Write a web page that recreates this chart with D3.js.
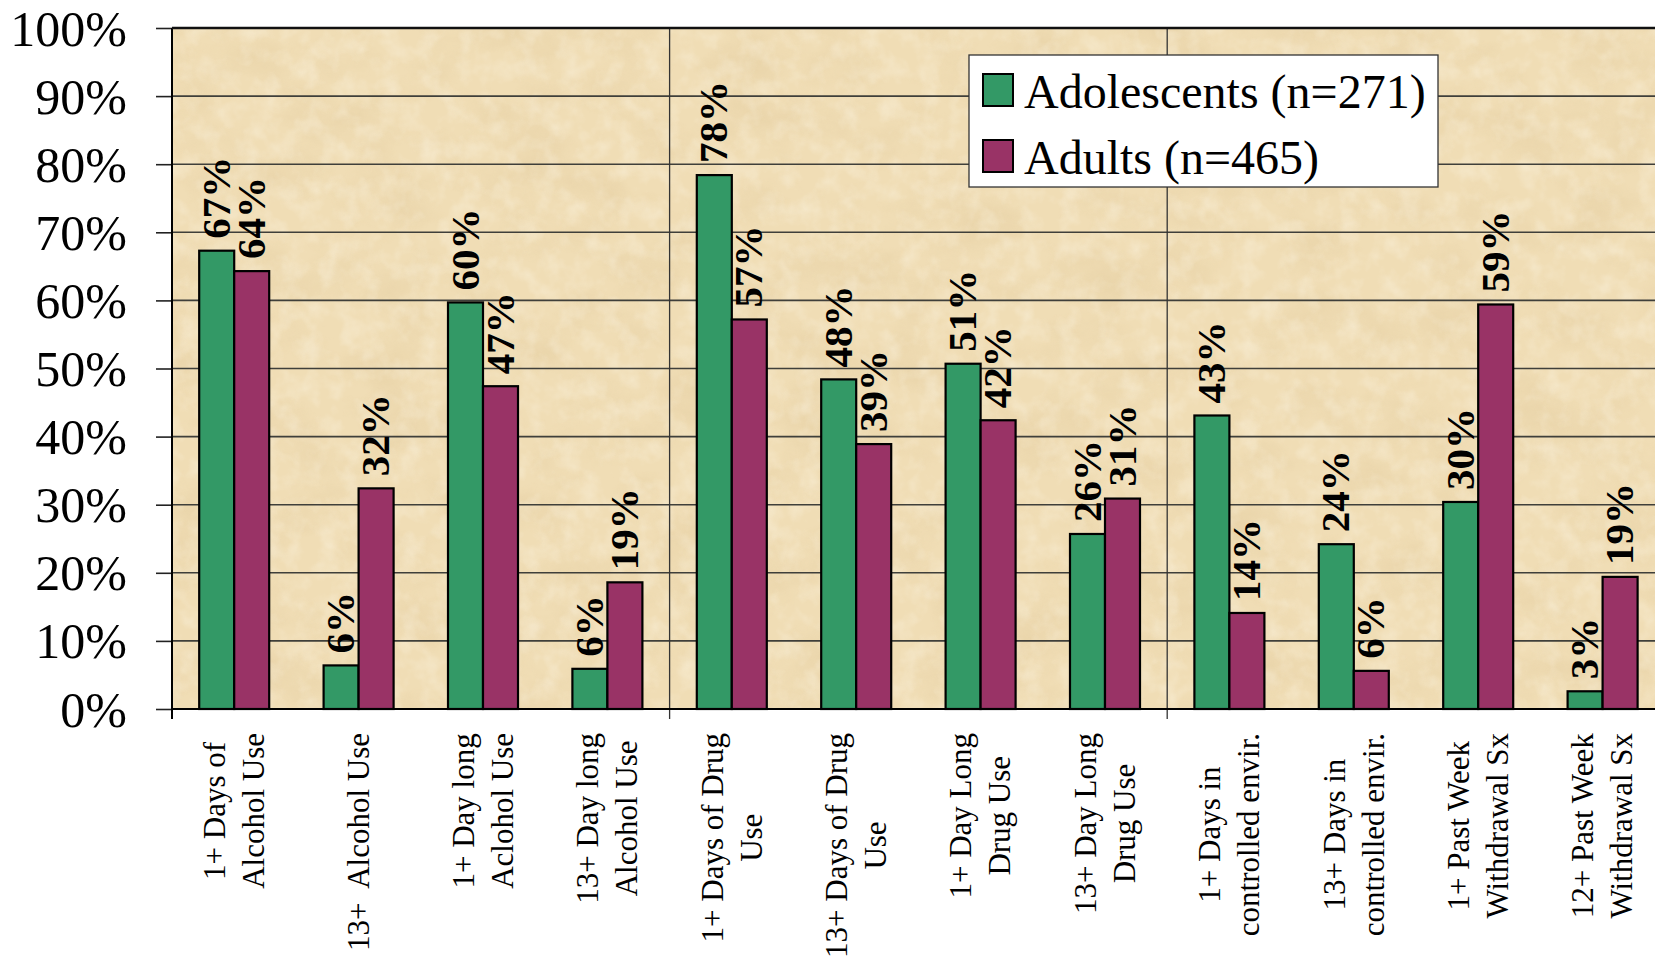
<!DOCTYPE html>
<html>
<head>
<meta charset="utf-8">
<script src="https://cdn.jsdelivr.net/npm/d3@7"></script>
<style>
  html, body { margin: 0; padding: 0; background: #fff; }
  svg { display: block; }
  text { font-family: "Liberation Serif", "Times New Roman", serif; }
</style>
</head>
<body>
<svg id="chart" width="1655" height="962"></svg>
<script>
// category labels, one entry per line of the wrapped label
var categories = [
    ["1+ Days of", "Alcohol Use"],
    ["13+  Alcohol Use"],
    ["1+ Day long", "Aclohol Use"],
    ["13+ Day long", "Alcohol Use"],
    ["1+ Days of Drug", "Use"],
    ["13+ Days of Drug", "Use"],
    ["1+ Day Long", "Drug Use"],
    ["13+ Day Long", "Drug Use"],
    ["1+ Days in", "controlled envir."],
    ["13+ Days in", "controlled envir."],
    ["1+ Past Week", "Withdrawal Sx"],
    ["12+ Past Week", "Withdrawal Sx"]
];

var seriesNames = ["Adolescents (n=271)", "Adults (n=465)"];
var seriesColors = ["#339966", "#993366"];

// percentages
var adolescents = [67.3, 6.4, 59.7, 5.9, 78.4, 48.4, 50.7, 25.7, 43.1, 24.2, 30.4, 2.6];
var adults = [64.3, 32.4, 47.4, 18.6, 57.2, 38.9, 42.4, 30.9, 14.1, 5.6, 59.4, 19.4];

var yTicks = [0, 10, 20, 30, 40, 50, 60, 70, 80, 90, 100];

var svg = d3.select("#chart");

// plot area (runs past the right edge of the picture, as in the original)
var plotLeft = 172, plotTop = 28, plotBottom = 709;
var catW = 124.4;
var plotRight = plotLeft + catW * categories.length;

var x = d3.scaleBand()
    .domain(d3.range(categories.length))
    .range([plotLeft, plotRight])
    .padding(0);

var xs = d3.scaleBand()
    .domain([0, 1])
    .range([catW / 2 - 35, catW / 2 + 35])
    .padding(0);

var y = d3.scaleLinear().domain([0, 100]).range([plotBottom, plotTop]);

/* BACKGROUND TEXTURE */
var defs = svg.append("defs");
// coarse darker blotches
var filt = defs.append("filter").attr("id", "paper")
    .attr("x", 0).attr("y", 0).attr("width", 1).attr("height", 1);
filt.append("feTurbulence")
    .attr("type", "fractalNoise")
    .attr("baseFrequency", "0.014 0.02")
    .attr("numOctaves", 5)
    .attr("seed", 7);
filt.append("feColorMatrix")
    .attr("type", "matrix")
    .attr("values", "0 0 0 0 0.80  0 0 0 0 0.64  0 0 0 0 0.38  2.0 0 0 0 -0.85");
// soft light speckle
var filt2 = defs.append("filter").attr("id", "speckle")
    .attr("x", 0).attr("y", 0).attr("width", 1).attr("height", 1);
filt2.append("feTurbulence")
    .attr("type", "fractalNoise")
    .attr("baseFrequency", "0.05")
    .attr("numOctaves", 3)
    .attr("seed", 3);
filt2.append("feColorMatrix")
    .attr("type", "matrix")
    .attr("values", "0 0 0 0 0.99  0 0 0 0 0.95  0 0 0 0 0.84  1.8 0 0 0 -0.75");

defs.append("clipPath").attr("id", "plotClip")
    .append("rect").attr("x", plotLeft).attr("y", plotTop)
    .attr("width", plotRight - plotLeft).attr("height", plotBottom - plotTop);

var bg = svg.append("g").attr("clip-path", "url(#plotClip)");
bg.append("rect")
    .attr("x", plotLeft).attr("y", plotTop)
    .attr("width", plotRight - plotLeft).attr("height", plotBottom - plotTop)
    .attr("fill", "#f0ddb5");
bg.append("rect")
    .attr("x", plotLeft).attr("y", plotTop)
    .attr("width", plotRight - plotLeft).attr("height", plotBottom - plotTop)
    .attr("filter", "url(#paper)")
    .attr("opacity", 0.75);
bg.append("rect")
    .attr("x", plotLeft).attr("y", plotTop)
    .attr("width", plotRight - plotLeft).attr("height", plotBottom - plotTop)
    .attr("filter", "url(#speckle)")
    .attr("opacity", 0.4);

/* GRID */
svg.append("g").selectAll("line")
    .data(yTicks.filter(function (d) { return d > 0 && d < 100; }))
    .enter().append("line")
    .attr("x1", plotLeft).attr("x2", plotRight)
    .attr("y1", function (d) { return y(d); })
    .attr("y2", function (d) { return y(d); })
    .attr("stroke", "#3f3f3a")
    .attr("stroke-width", 1.6);

// vertical separators every 4 categories
var seps = [4, 8];
svg.append("g").selectAll("line")
    .data(seps).enter().append("line")
    .attr("x1", function (d) { return x(d); })
    .attr("x2", function (d) { return x(d); })
    .attr("y1", plotTop).attr("y2", plotBottom + 10)
    .attr("stroke", "#333")
    .attr("stroke-width", 1.3);

/* BARS */
var seriesData = [adolescents, adults];
var groups = svg.append("g").selectAll("g")
    .data(seriesData).enter().append("g")
    .attr("fill", function (d, i) { return seriesColors[i]; });

groups.each(function (vals, si) {
    d3.select(this).selectAll("rect")
        .data(vals).enter().append("rect")
        .attr("x", function (d, i) { return x(i) + xs(si); })
        .attr("y", function (d) { return y(d); })
        .attr("width", xs.bandwidth())
        .attr("height", function (d) { return y(0) - y(d); })
        .attr("stroke", "#000")
        .attr("stroke-width", 2.2);
});

/* VALUE LABELS */
groups.each(function (vals, si) {
    d3.select(this).selectAll("text")
        .data(vals).enter().append("text")
        .attr("transform", function (d, i) {
            var cx = x(i) + xs(si) + xs.bandwidth() / 2;
            return "translate(" + cx + "," + (y(d) - 12) + ") rotate(-90)";
        })
        .attr("dy", "0.32em")
        .attr("fill", "#000")
        .attr("font-weight", "bold")
        .attr("font-size", 41)
        .text(function (d) { return Math.round(d) + "%"; });
});

/* AXES */
var yAxis = d3.axisLeft(y)
    .tickValues(yTicks)
    .tickFormat(function (d) { return d + "%"; })
    .tickSize(16)
    .tickPadding(29);

var yg = svg.append("g").attr("transform", "translate(" + plotLeft + ",0)").call(yAxis);
yg.select(".domain").remove();
yg.selectAll(".tick line").attr("stroke", "#222").attr("stroke-width", 1.6);
yg.selectAll(".tick text")
    .attr("font-family", "Liberation Serif")
    .attr("font-size", 50)
    .attr("fill", "#000")
    .attr("dy", "0.34em");

// left axis line, baseline and top border
svg.append("line")
    .attr("x1", plotLeft).attr("x2", plotLeft)
    .attr("y1", plotTop).attr("y2", plotBottom + 10)
    .attr("stroke", "#000").attr("stroke-width", 2);
svg.append("line")
    .attr("x1", plotLeft).attr("x2", plotRight)
    .attr("y1", plotBottom).attr("y2", plotBottom)
    .attr("stroke", "#000").attr("stroke-width", 2.2);
svg.append("line")
    .attr("x1", plotLeft).attr("x2", plotRight)
    .attr("y1", plotTop).attr("y2", plotTop)
    .attr("stroke", "#111").attr("stroke-width", 2.6);

/* CATEGORY LABELS */
var lineGap = 39, labelTop = 733;
var catG = svg.append("g").selectAll("g")
    .data(categories).enter().append("g");

catG.each(function (lines, ci) {
    var g = d3.select(this);
    var cc = x(ci) + x.bandwidth() / 2;
    var texts = g.selectAll("text")
        .data(lines).enter().append("text")
        .attr("font-size", 31)
        .attr("fill", "#000")
        .attr("text-anchor", "middle")
        .attr("xml:space", "preserve")
        .style("white-space", "pre")
        .text(function (d) { return d; });
    var maxW = 0;
    texts.each(function () { maxW = Math.max(maxW, this.getComputedTextLength()); });
    var n = lines.length;
    texts.attr("transform", function (d, li) {
        var cx = cc + (li - (n - 1) / 2) * lineGap;
        return "translate(" + cx + "," + (labelTop + maxW / 2) + ") rotate(-90)";
    }).attr("dy", "0.33em");
});

/* LEGEND */
var lg = svg.append("g");
lg.append("rect")
    .attr("x", 969).attr("y", 55)
    .attr("width", 469).attr("height", 132)
    .attr("fill", "#fff")
    .attr("stroke", "#333").attr("stroke-width", 1.3);

var items = lg.selectAll("g.item")
    .data(seriesNames).enter().append("g")
    .attr("class", "item")
    .attr("transform", function (d, i) { return "translate(983," + (74 + i * 66) + ")"; });
items.append("rect")
    .attr("width", 30).attr("height", 32)
    .attr("fill", function (d, i) { return seriesColors[i]; })
    .attr("stroke", "#000").attr("stroke-width", 2);
items.append("text")
    .attr("x", 41).attr("y", 34)
    .attr("font-size", 48)
    .attr("fill", "#000")
    .text(function (d) { return d; });
</script>
</body>
</html>
